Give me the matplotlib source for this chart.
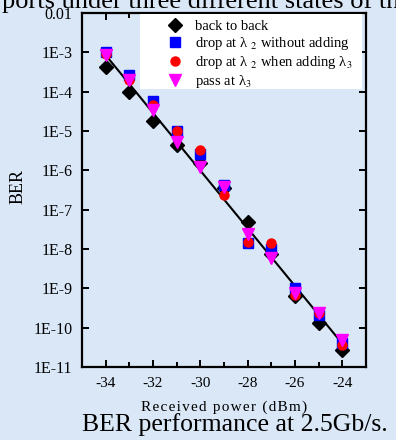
import numpy as np
import matplotlib
matplotlib.use("Agg")
import matplotlib.pyplot as plt
from matplotlib.ticker import FixedLocator, MultipleLocator
from matplotlib.patches import Rectangle

plt.rcParams['font.family'] = ['Liberation Serif', 'DejaVu Serif']
plt.rcParams['mathtext.fontset'] = 'stix'

# received power (dBm)
power = [-34, -33, -32, -31, -30, -29, -28, -27, -26, -25, -24]

# BER
ber_b2b   = [4.3e-4, 9.8e-5, 1.8e-5, 4.4e-6, 1.5e-6, 3.5e-7, 4.9e-8, 7.5e-9, 6.2e-10, 1.3e-10, 2.7e-11]
ber_drop  = [1.0e-3, 2.6e-4, 5.8e-5, 1.0e-5, 2.6e-6, 4.2e-7, 1.4e-8, 1.0e-8, 1.0e-9, 2.1e-10, 4.0e-11]
ber_dropa = [9.0e-4, 2.0e-4, 4.6e-5, 1.0e-5, 3.2e-6, 2.3e-7, 1.5e-8, 1.4e-8, 6.8e-10, 2.3e-10, 3.6e-11]
ber_pass  = [8.5e-4, 2.0e-4, 3.4e-5, 5.2e-6, 1.2e-6, 3.8e-7, 2.4e-8, 5.8e-9, 7.5e-10, 2.4e-10, 4.9e-11]

# fitted line end points
fit_x = [-34, -23.9]
fit_y = [8.5e-4, 3.3e-11]

ytick_vals = [1e-2, 1e-3, 1e-4, 1e-5, 1e-6, 1e-7, 1e-8, 1e-9, 1e-10, 1e-11]
ytick_labels = ['0.01', '1E-3', '1E-4', '1E-5', '1E-6', '1E-7', '1E-8', '1E-9', '1E-10', '1E-11']
xtick_vals = [-34, -32, -30, -28, -26, -24]

bg = '#d9e7f7'
fig = plt.figure(figsize=(3.96, 4.40), dpi=100, facecolor=bg)
ax = fig.add_axes([82/396, 73/440, 284/396, 354/440])
ax.set_facecolor(bg)

ax.plot(fit_x, fit_y, color='black', lw=1.5, zorder=2)
ax.plot(power, ber_b2b, ls='none', marker='D', ms=7, color='black', label='back to back', zorder=3)
ax.plot(power, ber_drop, ls='none', marker='s', ms=7, color='#0000ff', label=r'drop at λ $_{2}$ without adding', zorder=3)
ax.plot(power, ber_dropa, ls='none', marker='o', ms=6.5, color='#ff0000', label=r'drop at λ $_{2}$ when adding λ$_{3}$', zorder=4)
ax.plot(power, ber_pass, ls='none', marker='v', ms=8, color='#ff00ff', label=r'pass at λ$_{3}$', zorder=5)

ax.set_yscale('log')
ax.set_xlim(-35, -23)
ax.set_ylim(1e-11, 1e-2)
ax.yaxis.set_major_locator(FixedLocator(ytick_vals))
ax.set_yticklabels(ytick_labels)
ax.yaxis.set_minor_locator(FixedLocator([]))
ax.set_xticks(xtick_vals)
ax.set_xticklabels([str(v) for v in xtick_vals])
ax.xaxis.set_minor_locator(MultipleLocator(1))

ax.tick_params(which='both', direction='in', top=True, right=True, width=1.4, colors='black')
ax.tick_params(axis='y', labelsize=11.5)
ax.tick_params(axis='x', labelsize=11)
ax.tick_params(which='major', length=5, pad=7)
ax.tick_params(which='minor', length=3.5)
for s in ax.spines.values():
    s.set_linewidth(1.6)

ax.set_ylabel('BER', fontsize=13)
ax.yaxis.set_label_coords(-0.194, 0.511)
hs = '\u200a'
ax.set_xlabel(hs.join('Received power (dBm)'), fontsize=11, labelpad=8)

# white legend box
ax.add_patch(Rectangle((0.204, 0.785), 0.782, 0.212, transform=ax.transAxes,
                       facecolor='white', edgecolor='none', zorder=6))
leg = ax.legend(loc='upper left', bbox_to_anchor=(0.2915, 0.981), fontsize=10.5,
                frameon=False, borderpad=0, labelspacing=0.15,
                handletextpad=0.67, borderaxespad=0, handlelength=1.4)
leg.set_zorder(7)

fig.text(2/396, 1 - 8/440, 'ports under three different states of the', fontsize=19,
         ha='left', va='baseline')
fig.text(82/396, 1 - 431/440, 'BER performance at 2.5Gb/s.', fontsize=18.5,
         ha='left', va='baseline')

fig.savefig('out.png', dpi=100, facecolor=bg)
